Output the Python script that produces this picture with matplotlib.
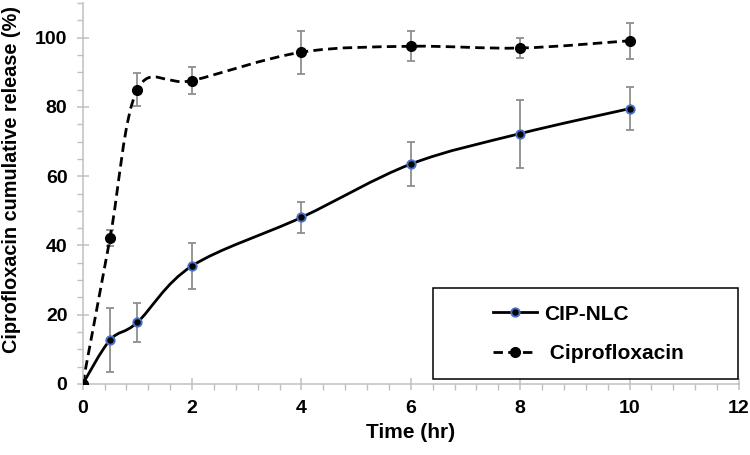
import numpy as np
import matplotlib
matplotlib.use('Agg')
import matplotlib.pyplot as plt
from matplotlib.path import Path
from matplotlib.patches import PathPatch, Rectangle
from matplotlib.lines import Line2D

plt.rcParams['font.family'] = ['Liberation Sans', 'DejaVu Sans']
plt.rcParams['font.weight'] = 'bold'

# Release data
time_hr = [0, 0.5, 1, 2, 4, 6, 8, 10]
nlc_mean = [0, 12.7, 17.8, 34.1, 48.1, 63.5, 72.3, 79.5]
nlc_err = [0, 9.2, 5.7, 6.6, 4.5, 6.3, 9.8, 6.3]
cip_mean = [0, 42.1, 85.0, 87.6, 95.8, 97.5, 97.0, 99.1]
cip_err = [0, 2.3, 4.8, 4.0, 6.2, 4.3, 2.8, 5.2]

labels = ['CIP-NLC', ' Ciprofloxacin']

grey = '#8f8f8f'
axis_grey = '#c0c0c0'
blue = '#4472C4'
dash = (0, (3.4, 1.9))


def smooth_path(x, y):
    # Excel-style smoothed line: cubic bezier segments (Catmull-Rom control points)
    pts = np.column_stack([x, y]).astype(float)
    n = len(pts)
    verts = [pts[0]]
    codes = [Path.MOVETO]
    for i in range(n - 1):
        p0 = pts[i - 1] if i > 0 else pts[i]
        p1 = pts[i]
        p2 = pts[i + 1]
        p3 = pts[i + 2] if i + 2 < n else pts[i + 1]
        c1 = p1 + (p2 - p0) / 6.0
        c2 = p2 - (p3 - p1) / 6.0
        verts += [c1, c2, p2]
        codes += [Path.CURVE4] * 3
    return Path(verts, codes)


fig = plt.figure(figsize=(7.5, 4.55), dpi=100)
ax = fig.add_axes([82.7 / 750, 1 - 384 / 455, (739 - 82.7) / 750, (384 - 3) / 455])

# error bars first (behind everything)
ax.errorbar(time_hr, nlc_mean, yerr=nlc_err, fmt='none', ecolor=grey,
            elinewidth=1.3, capsize=3, capthick=1.3, zorder=1)
ax.errorbar(time_hr, cip_mean, yerr=cip_err, fmt='none', ecolor=grey,
            elinewidth=1.3, capsize=3, capthick=1.3, zorder=1)

# smoothed lines
ax.add_patch(PathPatch(smooth_path(time_hr, nlc_mean), fill=False, edgecolor='black',
                       linewidth=2.0, zorder=2))
ax.add_patch(PathPatch(smooth_path(time_hr, cip_mean), fill=False, edgecolor='black',
                       linewidth=2.0, linestyle=dash, zorder=2))

# markers
ax.plot(time_hr, nlc_mean, linestyle='none', marker='o', markersize=6,
        markerfacecolor='black', markeredgecolor=blue, markeredgewidth=1.4, zorder=3)
ax.plot(time_hr, cip_mean, linestyle='none', marker='o', markersize=7,
        markerfacecolor='black', markeredgecolor='black', zorder=4)

ax.set_xlim(0, 12)
ax.set_ylim(0, 110)
ax.set_xticks(np.arange(0, 13, 2))
ax.set_xticks(np.arange(0, 12.01, 0.4), minor=True)
ax.set_yticks(np.arange(0, 101, 20))
ax.set_yticks(np.arange(0, 111, 5), minor=True)

for side in ['top', 'right']:
    ax.spines[side].set_visible(False)
for side in ['left', 'bottom']:
    ax.spines[side].set_color(axis_grey)
    ax.spines[side].set_linewidth(1.1)

ax.tick_params(which='major', direction='inout', length=9, width=1.1, color=axis_grey,
               labelsize=14)
ax.tick_params(which='minor', direction='out', length=4, width=1.0, color=axis_grey)
ax.tick_params(axis='y', which='major', pad=6.5)
ax.tick_params(axis='x', which='major', pad=7)
for lab in ax.get_xticklabels() + ax.get_yticklabels():
    lab.set_fontweight('bold')

ax.set_xlabel('Time (hr)', fontsize=15, fontweight='bold')
ax.set_ylabel('Ciprofloxacin cumulative release (%)', fontsize=14.3, fontweight='bold')
ax.xaxis.set_label_coords(0.5, -0.126)
ax.xaxis.label.set_va('center')
ax.yaxis.set_label_coords(-0.109, 0.537)
ax.yaxis.label.set_va('center')

# legend with its own box
handles = [
    Line2D([], [], color='black', linewidth=2.0, marker='o', markersize=6,
           markerfacecolor='black', markeredgecolor=blue, markeredgewidth=1.4),
    Line2D([], [], color='black', linewidth=2.0, linestyle=dash, marker='o',
           markersize=7, markerfacecolor='black', markeredgecolor='black'),
]
fig.add_artist(Rectangle((433 / 750, 1 - 379 / 455), 305 / 750, 91 / 455,
                         transform=fig.transFigure, fill=False, edgecolor='black',
                         linewidth=1.1, zorder=5))
leg = fig.legend(handles, labels, loc='center left',
                 bbox_to_anchor=(483 / 750, 1 - 334 / 455), frameon=False,
                 prop={'size': 15, 'weight': 'bold'}, handlelength=2.1,
                 handletextpad=0.35, labelspacing=1.0, borderpad=0, numpoints=1)

fig.savefig('out.png', dpi=100)
